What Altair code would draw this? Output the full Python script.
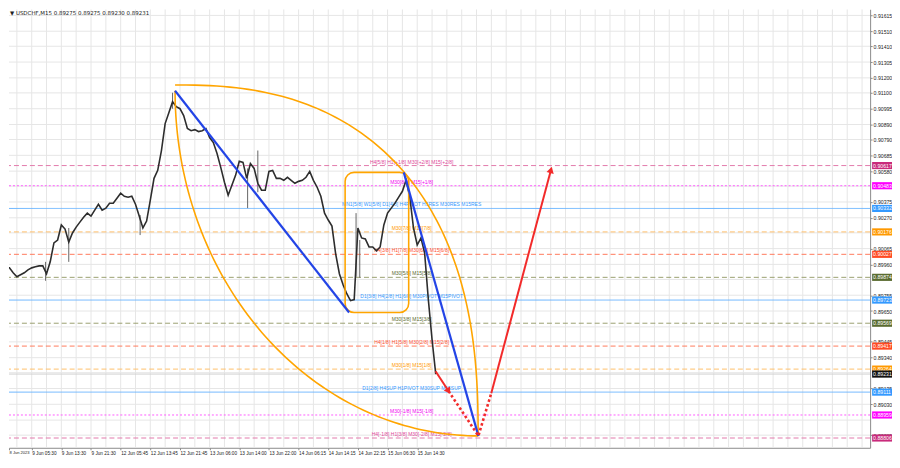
import altair as alt
import numpy as np
import pandas as pd

# ---------------- data ----------------
# closing prices, one value every BAR_STEP M15 bars
close = [
    0.89950, 0.89937, 0.89937, 0.89904, 0.89878, 0.89891, 0.89904, 0.89924, 0.89937, 0.89944,
    0.89950, 0.89950, 0.89898, 0.89977, 0.90103, 0.90122, 0.90222, 0.90195, 0.90109, 0.90169,
    0.90208, 0.90241, 0.90274, 0.90301, 0.90281, 0.90321, 0.90360, 0.90321, 0.90334, 0.90367,
    0.90367, 0.90400, 0.90433, 0.90413, 0.90407, 0.90413, 0.90360, 0.90281, 0.90202, 0.90248,
    0.90387, 0.90532, 0.90585, 0.90717, 0.90896, 0.90968, 0.91041, 0.91008, 0.90995, 0.90949,
    0.90863, 0.90849, 0.90856, 0.90843, 0.90849, 0.90863, 0.90803, 0.90770, 0.90697, 0.90605,
    0.90506, 0.90420, 0.90486, 0.90552, 0.90645, 0.90638, 0.90532, 0.90631, 0.90598, 0.90499,
    0.90453, 0.90453, 0.90578, 0.90585, 0.90532, 0.90532, 0.90519, 0.90539, 0.90519, 0.90499,
    0.90512, 0.90519, 0.90539, 0.90578, 0.90519, 0.90473, 0.90413, 0.90301, 0.90255, 0.90215,
    0.90030, 0.89898, 0.89825, 0.89765, 0.89719, 0.89726, 0.90202, 0.90136, 0.90129, 0.90076,
    0.90076, 0.90050, 0.90076, 0.90222, 0.90301, 0.90334, 0.90367, 0.90407, 0.90446, 0.90519,
    0.90407, 0.90202, 0.90089, 0.90136, 0.90036, 0.89726, 0.89461, 0.89231,
]
BAR_STEP = 4
bars = [i * BAR_STEP for i in range(len(close))]

# a few long wicks
wick_bars = [47, 72, 149, 184, 265, 276, 382, 386]
wick_low = [0.89851, 0.89977, 0.90155, 0.90995, 0.90334, 0.90440, 0.89878, 0.89871]
wick_high = [0.89977, 0.90202, 0.90288, 0.91101, 0.90598, 0.90717, 0.90301, 0.90122]

# Murrey-math style levels
level_prices = [0.90617, 0.90483, 0.90332, 0.90176, 0.90027, 0.89874, 0.89723,
                0.89569, 0.89417, 0.89264, 0.89111, 0.88959, 0.88806]
level_kinds = ["pink", "magenta", "blue", "orange", "red", "olive", "blue",
               "olive", "red", "orange", "blue", "magenta", "pink"]
level_texts = [
    "H4[5/8] H1[+1/8] M30[+2/8] M15[+2/8]",
    "M30[8/8] M15[+1/8]",
    "MN1[5/8] W1[5/8] D1[4/8] H4PIVOT H1RES M30RES M15RES",
    "M30[7/8] M15[7/8]",
    "H4[3/8] H1[7/8] M30[6/8] M15[6/8]",
    "M30[5/8] M15[5/8]",
    "D1[3/8] H4[2/8] H1[6/8] M30PIVOT M15PIVOT",
    "M30[3/8] M15[3/8]",
    "H4[1/8] H1[5/8] M30[2/8] M15[2/8]",
    "M30[1/8] M15[1/8]",
    "D1[2/8] H4SUP H1PIVOT M30SUP M15SUP",
    "M30[-1/8] M15[-1/8]",
    "H4[-1/8] H1[3/8] M30[-2/8] M15[-2/8]",
]
level_label_bar = 442
current_price = 0.89231
title_text = "\u25bc USDCHF,M15  0.89275 0.89275 0.89230 0.89231"

axis_prices = [0.91615, 0.91510, 0.91410, 0.91305, 0.91200, 0.91100, 0.90995, 0.90890,
               0.90790, 0.90685, 0.90580, 0.90375, 0.90270, 0.90065, 0.89960, 0.89755,
               0.89650, 0.89445, 0.89340, 0.89135, 0.89030, 0.88825]
grid_prices = [0.91615, 0.91510, 0.91410, 0.91305, 0.91200, 0.91100, 0.90995, 0.90890,
               0.90790, 0.90685, 0.90580, 0.90480, 0.90375, 0.90270, 0.90170, 0.90065,
               0.89960, 0.89860, 0.89755, 0.89650, 0.89545, 0.89445, 0.89340, 0.89240,
               0.89135, 0.89030, 0.88925, 0.88825]
time_labels = ["8 Jun 2023", "9 Jun 05:30", "9 Jun 13:30", "9 Jun 21:30", "12 Jun 05:45",
               "12 Jun 13:45", "12 Jun 21:45", "13 Jun 06:00", "13 Jun 14:00", "13 Jun 22:00",
               "14 Jun 06:15", "14 Jun 14:15", "14 Jun 22:15", "15 Jun 06:30", "15 Jun 14:30"]
BARS_PER_LABEL = 32
grid_bars = list(range(16, 937, 16))

# drawn objects (bar index, price)
trend_bars = [186.7, 374.5, 433.5, 514.0]
trend_prices = [0.91114, 0.89640, 0.90572, 0.88820]
trend_ids = [1, 1, 2, 2]

rect_bars = [370.2, 438.8]
rect_prices = [0.89640, 0.90572]

upper_arc_center = (186.7, 0.88820)
upper_arc_radii = (327.0, 0.02333)
lower_arc_center = (514.0, 0.91114)
lower_arc_radii = (327.3, 0.02294)

fc_bars = [467.8, 481.8, 514.0, 527.9, 592.3]
fc_prices = [0.89250, 0.89118, 0.88820, 0.89104, 0.90588]
head_angles = [147, 15]

# ---------------- styles ----------------
W, H = 866, 441
X_DOMAIN = [7.51, 936.7]
Y_DOMAIN = [0.88741, 0.91656]
FONT = "Liberation Sans"

kind_style = {
    "pink":    dict(line="#e27aab", dash=[5, 3], text="#e0479a", box="#c92a7b"),
    "magenta": dict(line="#ff5cff", dash=[2, 2], text="#f000f0", box="#ff00ff"),
    "blue":    dict(line="#6ab4ff", dash=[1, 0], text="#3399ff", box="#3399ff"),
    "orange":  dict(line="#ffbf6a", dash=[5, 3], text="#ff9900", box="#ff9900"),
    "red":     dict(line="#ff7a5c", dash=[5, 3], text="#ff5030", box="#ff4a22"),
    "olive":   dict(line="#9aa070", dash=[5, 3], text="#5a6b30", box="#5a6b30"),
}

xs = alt.Scale(domain=X_DOMAIN, nice=False, zero=False)
ys = alt.Scale(domain=Y_DOMAIN, nice=False, zero=False)

arr = "[" + ",".join("'" + t + "'" for t in time_labels) + "]"
x_label_expr = (f"datum.value < 10 ? '{time_labels[0]}' : "
                f"{arr}[round(datum.value / {BARS_PER_LABEL})]")
x_values = [7.55] + [BARS_PER_LABEL * i for i in range(1, len(time_labels))]

x_axis = alt.Axis(values=x_values, labelExpr=x_label_expr, grid=False, title=None,
                  labelFontSize={"condition": {"test": "datum.value < 10", "value": 4.1},
                                 "value": 4.7},
                  labelFont=FONT, labelAlign="left", labelPadding=1,
                  tickSize=2, domainColor="#8a8a8a", tickColor="#8a8a8a",
                  labelColor="#222222", labelOverlap=False, labelFlush=False)
y_axis = alt.Axis(orient="right", values=axis_prices, format=".5f", grid=False, title=None,
                  labelFontSize=5.2, labelFont=FONT, labelPadding=1, tickSize=2,
                  domainColor="#8a8a8a", tickColor="#8a8a8a", labelColor="#222222",
                  labelOverlap=False, labelFlush=False)


def X(field="bar"):
    return alt.X(f"{field}:Q", scale=xs, axis=x_axis, title=None)


def Y(field="price"):
    return alt.Y(f"{field}:Q", scale=ys, axis=y_axis, title=None)


layers = []

# grid
layers.append(alt.Chart(pd.DataFrame({"price": grid_prices}))
              .mark_rule(color="#e6e6e6", strokeWidth=1, clip=True).encode(y=Y()))
layers.append(alt.Chart(pd.DataFrame({"bar": grid_bars}))
              .mark_rule(color="#e6e6e6", strokeWidth=1, clip=True).encode(x=X()))

# level lines
lev = pd.DataFrame({"price": level_prices, "kind": level_kinds, "text": level_texts})
lev["tcolor"] = [kind_style[k]["text"] for k in level_kinds]
lev["bcolor"] = [kind_style[k]["box"] for k in level_kinds]
lev["label"] = [f"{p:.5f}" for p in level_prices]
lev["bar"] = level_label_bar
for kind, st in kind_style.items():
    sub = lev[lev["kind"] == kind]
    layers.append(alt.Chart(sub).mark_rule(color=st["line"], strokeWidth=1,
                                           strokeDash=st["dash"], clip=True)
                  .encode(y=Y()))

# current price line
cur = pd.DataFrame({"price": [current_price], "label": [f"{current_price:.5f}"]})
layers.append(alt.Chart(cur).mark_rule(color="#d2d2d2", strokeWidth=1, clip=True).encode(y=Y()))

# level texts
layers.append(alt.Chart(lev).mark_text(align="center", baseline="bottom", dy=-1,
                                       fontSize=5, font=FONT, clip=True)
              .encode(x=X(), y=Y(), text="text:N",
                      color=alt.Color("tcolor:N", scale=None)))

# price series
px = pd.DataFrame({"bar": bars, "price": close})
wk = pd.DataFrame({"bar": wick_bars, "lo": wick_low, "hi": wick_high})
layers.append(alt.Chart(wk).mark_rule(color="#666666", strokeWidth=1, clip=True)
              .encode(x=X(), y=Y("lo"), y2="hi:Q"))
layers.append(alt.Chart(px).mark_line(color="#2d2d2d", strokeWidth=1.6, clip=True)
              .encode(x=X(), y=Y()))

# rounded rectangle
rc = pd.DataFrame({"b0": [rect_bars[0]], "b1": [rect_bars[1]],
                   "p0": [rect_prices[0]], "p1": [rect_prices[1]]})
layers.append(alt.Chart(rc).mark_rect(cornerRadius=9, fillOpacity=0, stroke="#ffa500",
                                      strokeWidth=1.6, clip=True)
              .encode(x=X("b0"), x2="b1:Q", y=Y("p0"), y2="p1:Q"))

# orange arcs
t = np.linspace(0, np.pi / 2, 90)
n_up = 2.45
ub = upper_arc_center[0] + upper_arc_radii[0] * np.clip(np.cos(t), 0, 1) ** (2 / n_up)
up = upper_arc_center[1] + upper_arc_radii[1] * np.clip(np.sin(t), 0, 1) ** (2 / n_up)
lb = lower_arc_center[0] - lower_arc_radii[0] * np.cos(t)
lp = lower_arc_center[1] - lower_arc_radii[1] * np.sin(t)
arcs = pd.DataFrame({
    "bar": np.concatenate([ub, lb]),
    "price": np.concatenate([up, lp]),
    "arc": ["upper"] * len(t) + ["lower"] * len(t),
    "ord": np.concatenate([np.arange(len(t)), np.arange(len(t))]),
})
layers.append(alt.Chart(arcs).mark_line(color="#ffa500", strokeWidth=1.6, clip=True)
              .encode(x=X(), y=Y(), detail="arc:N", order="ord:Q"))

# blue trend lines
tr = pd.DataFrame({"bar": trend_bars, "price": trend_prices, "id": trend_ids})
layers.append(alt.Chart(tr).mark_line(color="#2344e6", strokeWidth=2.2, clip=True)
              .encode(x=X(), y=Y(), detail="id:N"))

# red forecast path
solid = pd.DataFrame({"bar": [fc_bars[0], fc_bars[1], fc_bars[3], fc_bars[4]],
                      "price": [fc_prices[0], fc_prices[1], fc_prices[3], fc_prices[4]],
                      "seg": [1, 1, 2, 2]})
dotted = pd.DataFrame({"bar": fc_bars[1:4], "price": fc_prices[1:4]})
layers.append(alt.Chart(solid).mark_line(color="#f22a2a", strokeWidth=2, clip=True)
              .encode(x=X(), y=Y(), detail="seg:N"))
layers.append(alt.Chart(dotted).mark_line(color="#f22a2a", strokeWidth=2.6,
                                          strokeDash=[2.5, 2.5], clip=True)
              .encode(x=X(), y=Y()))
heads = pd.DataFrame({"bar": [fc_bars[1], fc_bars[4]], "price": [fc_prices[1], fc_prices[4]],
                      "ang": head_angles})
layers.append(alt.Chart(heads).mark_point(shape="triangle-up", filled=True, size=55,
                                          color="#f22a2a", opacity=1, clip=True)
              .encode(x=X(), y=Y(), angle=alt.Angle("ang:Q", scale=None)))

# price boxes on the right axis
BOX = "M-1,-0.36L1,-0.36L1,0.36L-1,0.36Z"
layers.append(alt.Chart(lev).mark_point(shape=BOX, size=400, filled=True, opacity=1,
                                        strokeWidth=0)
              .encode(x=alt.value(W + 12), y=Y(), color=alt.Color("bcolor:N", scale=None)))
layers.append(alt.Chart(lev).mark_text(align="left", baseline="middle", fontSize=5.2,
                                       font=FONT, color="white")
              .encode(x=alt.value(W + 3), y=Y(), text="label:N"))
layers.append(alt.Chart(cur).mark_point(shape=BOX, size=400, filled=True, opacity=1,
                                        strokeWidth=0, color="#111111")
              .encode(x=alt.value(W + 12), y=Y()))
layers.append(alt.Chart(cur).mark_text(align="left", baseline="middle", fontSize=5.2,
                                       font=FONT, color="white")
              .encode(x=alt.value(W + 3), y=Y(), text="label:N"))

# title
layers.append(alt.Chart(pd.DataFrame({"t": [title_text]}))
              .mark_text(align="left", baseline="middle", fontSize=5.5, font="DejaVu Sans",
                         color="#222222")
              .encode(x=alt.value(1), y=alt.value(4), text="t:N"))

chart = (alt.layer(*layers)
         .properties(width=W, height=H, padding=0, background="white")
         .configure_view(stroke="transparent"))

chart.save("out.html", embed_options={"renderer": "svg", "actions": False})
